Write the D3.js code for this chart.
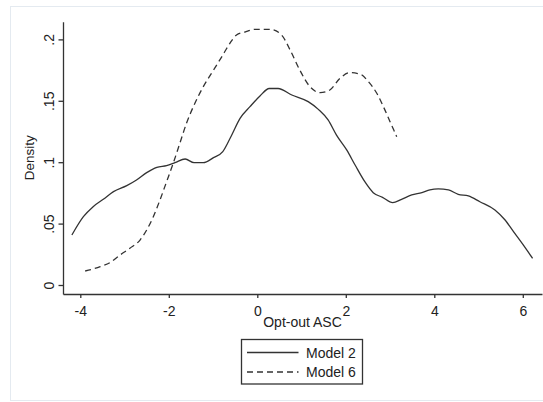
<!DOCTYPE html>
<html>
<head>
<meta charset="utf-8">
<script src="https://cdn.jsdelivr.net/npm/d3@7"></script>
<style>
  body { margin: 0; background: #fff; }
  svg { display: block; font-family: "Liberation Sans", Arial, sans-serif; }
</style>
</head>
<body>
<svg id="chart" width="543" height="402"></svg>
<script>
// Opt-out ASC values and kernel density
const model2X = [-4.19, -3.93, -3.71, -3.48, -3.25, -2.95, -2.73, -2.50, -2.27, -2.05, -1.86, -1.63, -1.43, -1.22,
  -0.99, -0.78, -0.58, -0.39, -0.165, 0.06, 0.27, 0.47, 0.78, 1.15, 1.38, 1.60, 1.79, 2.02, 2.21, 2.43, 2.62, 2.83,
  3.06, 3.26, 3.49, 3.72, 3.90, 4.09, 4.32, 4.54, 4.77, 5.03, 5.37, 5.60, 5.79, 6.01, 6.22];
const model2Y = [0.0407, 0.0556, 0.0638, 0.0698, 0.0760, 0.0809, 0.0855, 0.0915, 0.0958, 0.0972, 0.0996, 0.1026,
  0.0996, 0.0996, 0.1037, 0.1086, 0.1220, 0.1357, 0.1452, 0.1539, 0.1600, 0.1600, 0.1547, 0.1493, 0.1430, 0.1344,
  0.1220, 0.1100, 0.0977, 0.0841, 0.0752, 0.0714, 0.0670, 0.0698, 0.0733, 0.0752, 0.0774, 0.0782, 0.0774, 0.0738,
  0.0725, 0.0678, 0.0611, 0.0529, 0.0434, 0.0326, 0.0217];

const model6X = [-3.89, -3.55, -3.33, -3.10, -2.88, -2.65, -2.50, -2.35, -2.20, -2.05, -1.90, -1.75, -1.60, -1.41,
  -1.22, -0.99, -0.80, -0.62, -0.47, -0.28, -0.05, 0.30, 0.55, 0.76, 0.96, 1.19, 1.42, 1.64, 1.87, 2.09, 2.32, 2.51,
  2.70, 2.85, 3.00, 3.15];
const model6Y = [0.0114, 0.0149, 0.0182, 0.0244, 0.0299, 0.0366, 0.0448, 0.0556, 0.0692, 0.0841, 0.0991, 0.1154,
  0.1317, 0.1480, 0.1615, 0.1750, 0.1860, 0.1968, 0.2036, 0.2060, 0.2082, 0.2082, 0.2035, 0.1900, 0.1750, 0.1615,
  0.1566, 0.1588, 0.1683, 0.1729, 0.1718, 0.1656, 0.1561, 0.1452, 0.1330, 0.1208];

const xTicks = [-4, -2, 0, 2, 4, 6];
const xTickLabels = ["-4", "-2", "0", "2", "4", "6"];
const yTicks = [0, 0.05, 0.1, 0.15, 0.2];
const yTickLabels = ["0", ".05", ".1", ".15", ".2"];

const seriesNames = ["Model 2", "Model 6"];

const svg = d3.select("#chart");
const ink = "#333";

// light outer frame of the graph region
svg.append("rect")
  .attr("x", 10.5).attr("y", 6.5)
  .attr("width", 540).attr("height", 394)
  .attr("fill", "none")
  .attr("stroke", "#e4eaf0");

const plotLeft = 63, plotRight = 542, plotTop = 21.7, plotBottom = 294;

const x = d3.scaleLinear()
  .domain([-4.391, 6.434])
  .range([plotLeft, plotRight]);

const y = d3.scaleLinear()
  .domain([-0.00733, 0.2144])
  .range([plotBottom, plotTop]);

const xAxis = svg.append("g")
  .attr("transform", "translate(0," + plotBottom + ")")
  .call(d3.axisBottom(x).tickValues(xTicks).tickSize(4).tickSizeOuter(0).tickPadding(8.5)
    .tickFormat((d, i) => xTickLabels[i]));

const yAxis = svg.append("g")
  .attr("transform", "translate(" + plotLeft + ",0)")
  .call(d3.axisLeft(y).tickValues(yTicks).tickSize(4.5).tickSizeOuter(0)
    .tickFormat((d, i) => yTickLabels[i]));

[xAxis, yAxis].forEach(g => {
  g.selectAll("path, line").attr("stroke", ink).attr("stroke-width", 1.3);
  g.selectAll("text").attr("fill", "#222").style("font-size", "14px");
  g.attr("font-family", null).attr("font-size", null);
});

yAxis.selectAll("text")
  .attr("x", 0).attr("dy", 0)
  .attr("text-anchor", "middle")
  .attr("transform", "translate(-9.5,0) rotate(-90)");

// axis titles
svg.append("text")
  .attr("transform", "translate(34," + ((plotTop + plotBottom) / 2) + ") rotate(-90)")
  .attr("text-anchor", "middle")
  .attr("fill", "#222")
  .style("font-size", "13.5px")
  .text("Density");

svg.append("text")
  .attr("x", (plotLeft + plotRight) / 2)
  .attr("y", 327)
  .attr("text-anchor", "middle")
  .attr("fill", "#222")
  .style("font-size", "14px")
  .text("Opt-out ASC");

const line = d3.line()
  .x(d => x(d[0]))
  .y(d => y(d[1]))
  .curve(d3.curveMonotoneX);

svg.append("path")
  .datum(d3.zip(model2X, model2Y))
  .attr("d", line)
  .attr("fill", "none")
  .attr("stroke", ink)
  .attr("stroke-width", 1.3);

svg.append("path")
  .datum(d3.zip(model6X, model6Y))
  .attr("d", line)
  .attr("fill", "none")
  .attr("stroke", ink)
  .attr("stroke-width", 1.3)
  .attr("stroke-dasharray", "6,4");

// legend
const legend = svg.append("g");
legend.append("rect")
  .attr("x", 241.5).attr("y", 339.5)
  .attr("width", 121).attr("height", 44.5)
  .attr("fill", "#fff")
  .attr("stroke", ink)
  .attr("stroke-width", 1.3);

seriesNames.forEach((name, i) => {
  const ly = 352.5 + i * 19.5;
  legend.append("line")
    .attr("x1", 247).attr("x2", 298.5)
    .attr("y1", ly).attr("y2", ly)
    .attr("stroke", ink)
    .attr("stroke-width", 1.3)
    .attr("stroke-dasharray", i === 1 ? "6,4" : null);
  legend.append("text")
    .attr("x", 306).attr("y", ly + 5)
    .attr("fill", "#222")
    .style("font-size", "14px")
    .text(name);
});
</script>
</body>
</html>
